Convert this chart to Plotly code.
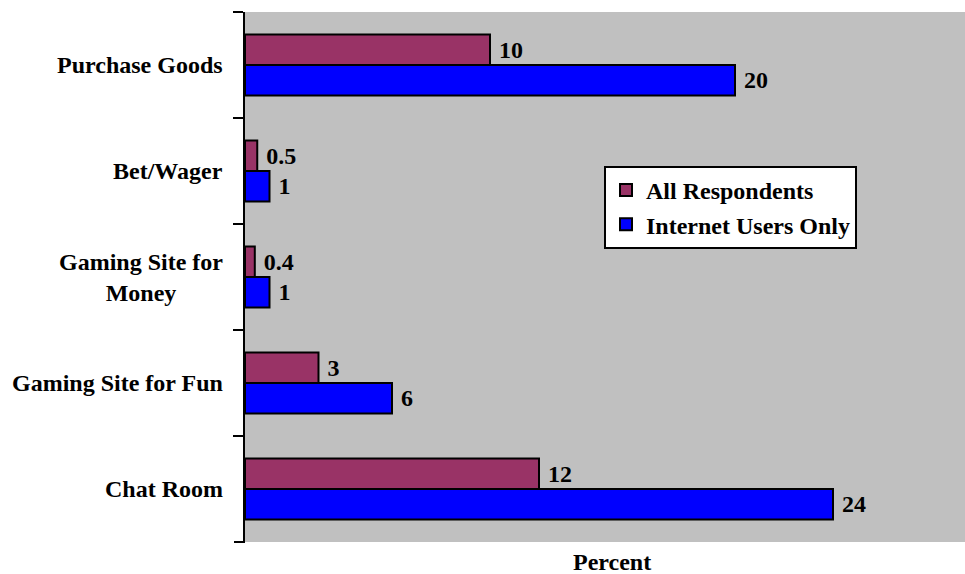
import plotly.graph_objects as go

# Online activities, top to bottom
categories = ["Purchase Goods", "Bet/Wager", "Gaming Site for Money",
              "Gaming Site for Fun", "Chat Room"]
category_labels = ["Purchase Goods", "Bet/Wager", "Gaming Site for<br>Money",
                   "Gaming Site for Fun", "Chat Room"]
all_respondents = [10, 0.5, 0.4, 3, 12]
internet_users = [20, 1, 1, 6, 24]

FONT = "Liberation Serif"
label_font = dict(family=FONT, size=24, color="black", weight="bold")


def fmt(v):
    return "\u00a0" + (f"{v:g}")


fig = go.Figure()
fig.add_trace(go.Bar(
    name="All Respondents", y=categories, x=all_respondents, orientation="h",
    marker=dict(color="#993366", line=dict(color="black", width=2)),
    text=[fmt(v) for v in all_respondents], textposition="outside",
    textfont=label_font, constraintext="none", cliponaxis=False,
))
fig.add_trace(go.Bar(
    name="Internet Users Only", y=categories, x=internet_users, orientation="h",
    marker=dict(color="#0000FF", line=dict(color="black", width=2)),
    text=[fmt(v) for v in internet_users], textposition="outside",
    textfont=label_font, constraintext="none", cliponaxis=False,
))

# Category labels, centred line by line and right-aligned to the axis
for cat, lab in zip(categories, category_labels):
    fig.add_annotation(
        x=-20 / 720, xref="paper", y=cat, yref="y",
        text=lab, showarrow=False, xanchor="right", align="center",
        font=label_font,
    )

fig.add_annotation(
    x=0.51, xref="paper", y=0, yref="paper", yanchor="top", yshift=-5,
    text="Percent", showarrow=False, font=label_font,
)

# Closing tick at the lower end of the category axis
fig.add_shape(type="line", xref="paper", yref="paper",
              x0=-11 / 720, x1=0, y0=0, y1=0,
              line=dict(color="black", width=2))

fig.update_layout(
    width=965, height=574,
    margin=dict(l=245, r=0, t=12, b=32),
    paper_bgcolor="white", plot_bgcolor="#C0C0C0",
    font=label_font,
    barmode="group", bargap=0.425, bargroupgap=0,
    showlegend=True,
    legend=dict(
        x=(604 - 245) / 720, y=1 - (166 - 12) / 530,
        xanchor="left", yanchor="top",
        bgcolor="white", bordercolor="black", borderwidth=2,
        font=label_font,
    ),
    xaxis=dict(range=[0, 720 / 24.5], showgrid=False, zeroline=False,
               showticklabels=False, showline=False, fixedrange=True),
    yaxis=dict(range=[4.5, -0.5], showgrid=False, zeroline=False,
               showticklabels=False, showline=True, linecolor="black",
               linewidth=2, ticks="outside", tickson="boundaries",
               ticklen=10, tickwidth=2, tickcolor="black"),
)

fig.write_html("out.html")
